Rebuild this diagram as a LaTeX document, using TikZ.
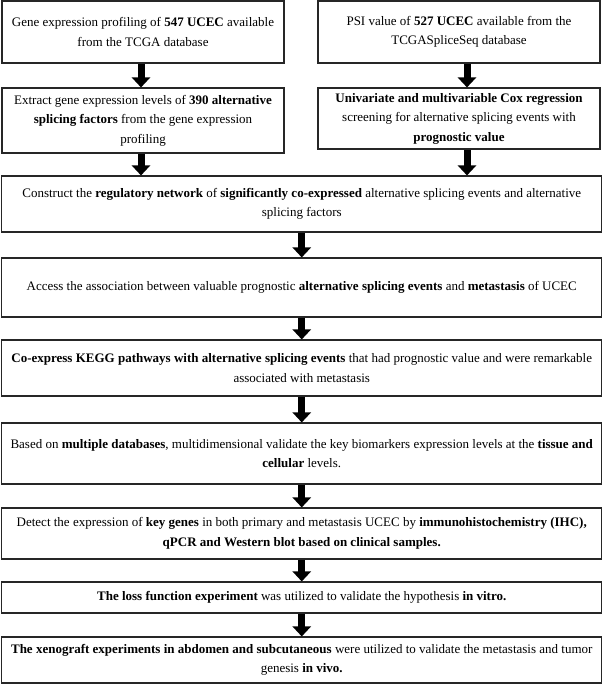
\documentclass[tikz,border=0pt]{standalone}
\usepackage{fontspec}
\setmainfont{Liberation Serif}
\usetikzlibrary{arrows.meta}
\tikzset{
  boxnode/.style={draw=black!85, line width=1.1pt, inner sep=0pt, align=center,
    font=\fontsize{13pt}{19.5pt}\selectfont},
  bigarrow/.style={line width=7pt, -{Triangle[width=18pt,length=10pt]}}
}
\begin{document}
\begin{tikzpicture}[x=1pt,y=1pt]
\useasboundingbox (0,0) rectangle (604,-685);
\node[boxnode, minimum width=282pt, minimum height=62pt] (b1) at (143,-32)
  {Gene expression profiling of \textbf{547 UCEC} available\\from the TCGA database};
\node[boxnode, minimum width=282pt, minimum height=62pt] (b2) at (459,-32)
  {PSI value of \textbf{527 UCEC} available from the\\TCGASpliceSeq database};
\node[boxnode, minimum width=282pt, minimum height=65pt] (b3) at (143,-120.5)
  {Extract gene expression levels of \textbf{390 alternative}\\\textbf{splicing factors} from the gene expression\\profiling};
\node[boxnode, minimum width=282pt, minimum height=61pt] (b4) at (459,-118.5)
  {\textbf{Univariate and multivariable Cox regression}\\screening for alternative splicing events with\\\textbf{prognostic value}};
\node[boxnode, minimum width=600pt, minimum height=56pt] (b5) at (301.75,-204)
  {Construct the \textbf{regulatory network} of \textbf{significantly co-expressed} alternative splicing events and alternative\\splicing factors};
\node[boxnode, minimum width=600pt, minimum height=59pt] (b6) at (301.75,-287.5)
  {Access the association between valuable prognostic \textbf{alternative splicing events} and \textbf{metastasis} of UCEC};
\node[boxnode, minimum width=600pt, minimum height=56pt] (b7) at (301.75,-368)
  {\textbf{Co-express KEGG pathways with alternative splicing events} that had prognostic value and were remarkable\\associated with metastasis};
\node[boxnode, minimum width=600pt, minimum height=61pt] (b8) at (301.75,-453.5)
  {Based on \textbf{multiple databases}, multidimensional validate the key biomarkers expression levels at the \textbf{tissue and}\\\textbf{cellular} levels.};
\node[boxnode, minimum width=600pt, minimum height=51pt] (b9) at (301.75,-533.5)
  {Detect the expression of \textbf{key genes} in both primary and metastasis UCEC by \textbf{immunohistochemistry (IHC),}\\\textbf{qPCR and Western blot based on clinical samples.}};
\node[boxnode, minimum width=600pt, minimum height=31pt] (b10) at (301.75,-597.5)
  {\textbf{The loss function experiment} was utilized to validate the hypothesis \textbf{in vitro.}};
\node[boxnode, minimum width=600pt, minimum height=46pt] (b11) at (301.75,-660)
  {\textbf{The xenograft experiments in abdomen and subcutaneous} were utilized to validate the metastasis and tumor\\genesis \textbf{in vivo.}};
\draw[bigarrow] ([xshift=-2pt]b1.south) -- ([xshift=-2pt]b3.north);
\draw[bigarrow] ([xshift=8pt]b2.south) -- ([xshift=8pt]b4.north);
\draw[bigarrow] ([xshift=-2pt]b3.south) -- ([xshift=-2pt]b3.south |- b5.north);
\draw[bigarrow] ([xshift=8pt]b4.south) -- ([xshift=8pt]b4.south |- b5.north);
\draw[bigarrow] (b5.south) -- (b6.north);
\draw[bigarrow] (b6.south) -- (b7.north);
\draw[bigarrow] (b7.south) -- (b8.north);
\draw[bigarrow] (b8.south) -- (b9.north);
\draw[bigarrow] (b9.south) -- (b10.north);
\draw[bigarrow] (b10.south) -- (b11.north);
\end{tikzpicture}
\end{document}
